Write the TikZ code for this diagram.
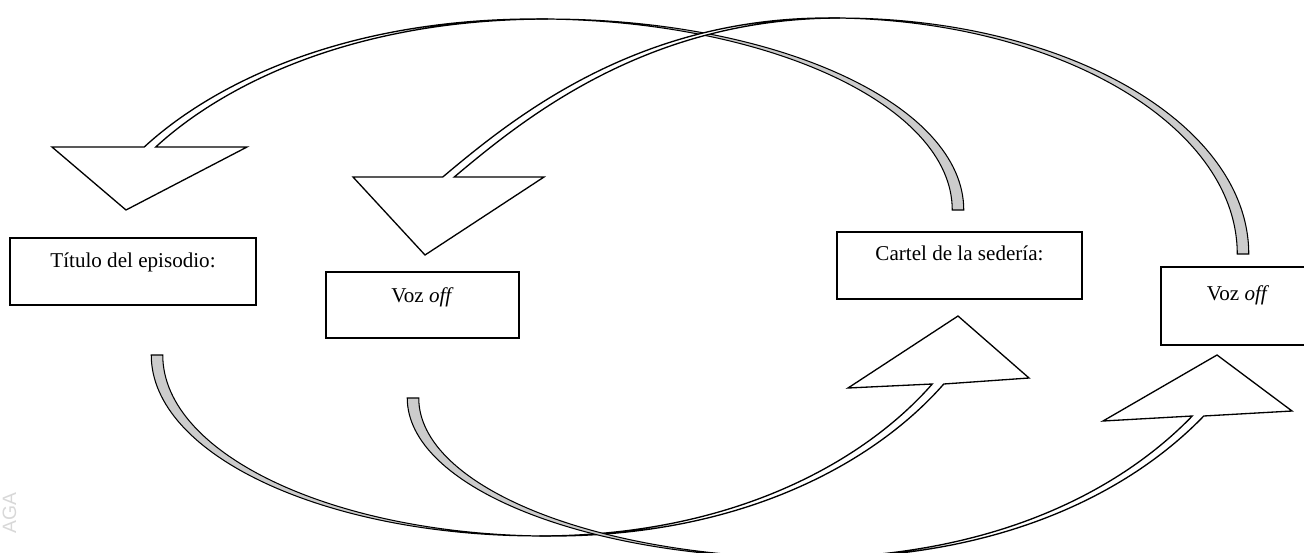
\documentclass[tikz,border=0pt]{standalone}
\usepackage{fontspec}
\setmainfont{Liberation Serif}
\newfontfamily\markfont{Liberation Sans}
\usepackage{tikz}
\usetikzlibrary{calc}
\definecolor{backc}{HTML}{CCCCCC}
\definecolor{markc}{HTML}{D8D8D8}
\tikzset{
  tbox/.style={draw=black,line width=1.1pt,inner sep=0pt,font=\fontsize{12}{14}\selectfont},
  ribback/.style={draw=black,fill=backc,line width=0.6pt},
  ribfront/.style={draw=black,fill=white,line width=0.75pt},
  wmark/.style={rotate=90,text=markc,font=\markfont\fontsize{11}{11}\selectfont,inner sep=0pt},
}
\newcommand{\hw}{1.15mm}
\newcommand{\ribbon}[8]{%
  \filldraw[ribback] ([xshift=-\hw]#1) .. controls ([xshift=-\hw]#2) and ([xshift=-\hw]#3) .. ([xshift=-\hw]#4)
    -- ([xshift=\hw]#4) .. controls ([xshift=\hw]#3) and ([xshift=\hw]#2) .. ([xshift=\hw]#1) -- cycle;
  \filldraw[ribfront] ([xshift=-\hw]#4) .. controls ([xshift=-\hw]#5) and ([xshift=-\hw]#6) .. ([xshift=-\hw]#7)
    -- #8 -- ([xshift=\hw]#7) .. controls ([xshift=\hw]#6) and ([xshift=\hw]#5) .. ([xshift=\hw]#4) -- cycle;}

\begin{document}
\begin{tikzpicture}[x=0.2mm,y=-0.2mm]
  \useasboundingbox (0,0) rectangle (1304,552);
  \clip (0,0) rectangle (1304,552);
  \node[tbox,minimum width=49.2mm,text height=5.8mm,text depth=7.6mm] (titulo) at (133,271.5) {Título del episodio:};
  \node[tbox,minimum width=38.6mm,text height=6mm,text depth=7.2mm] (voza) at (422.5,305) {Voz \textit{off}};
  \node[tbox,minimum width=49mm,text height=5.6mm,text depth=7.8mm] (cartel) at (959.5,265.5) {Cartel de la sedería:};
  \node[tbox,minimum width=30.8mm,text height=6.6mm,text depth=9mm] (vozb) at (1238,306) {Voz \textit{off}};
  \node[wmark,anchor=base east] (sello) at (16,492) {AGA};
  \ribbon{958,210}{958,105}{772,19}{542,19}{346,19}{216,86}{150,147}{(52,147) -- (126,210) -- (247,147)}
  \ribbon{1243,254}{1243,124}{1060,18}{834,18}{641,18}{517.5,119}{448.5,177}{(353,177) -- (425,255) -- (544,177)}
  \ribbon{157,355}{157,455}{331,536}{545,536}{741.5,536}{872,459.5}{938,384}{(848,388) -- (958,316) -- (1029,378)}
  \ribbon{413,398}{413,486}{589.5,558}{807,558}{1002.5,558}{1128.5,488}{1198,416}{(1103,421) -- (1217,355) -- (1292,411)}
\end{tikzpicture}
\end{document}
